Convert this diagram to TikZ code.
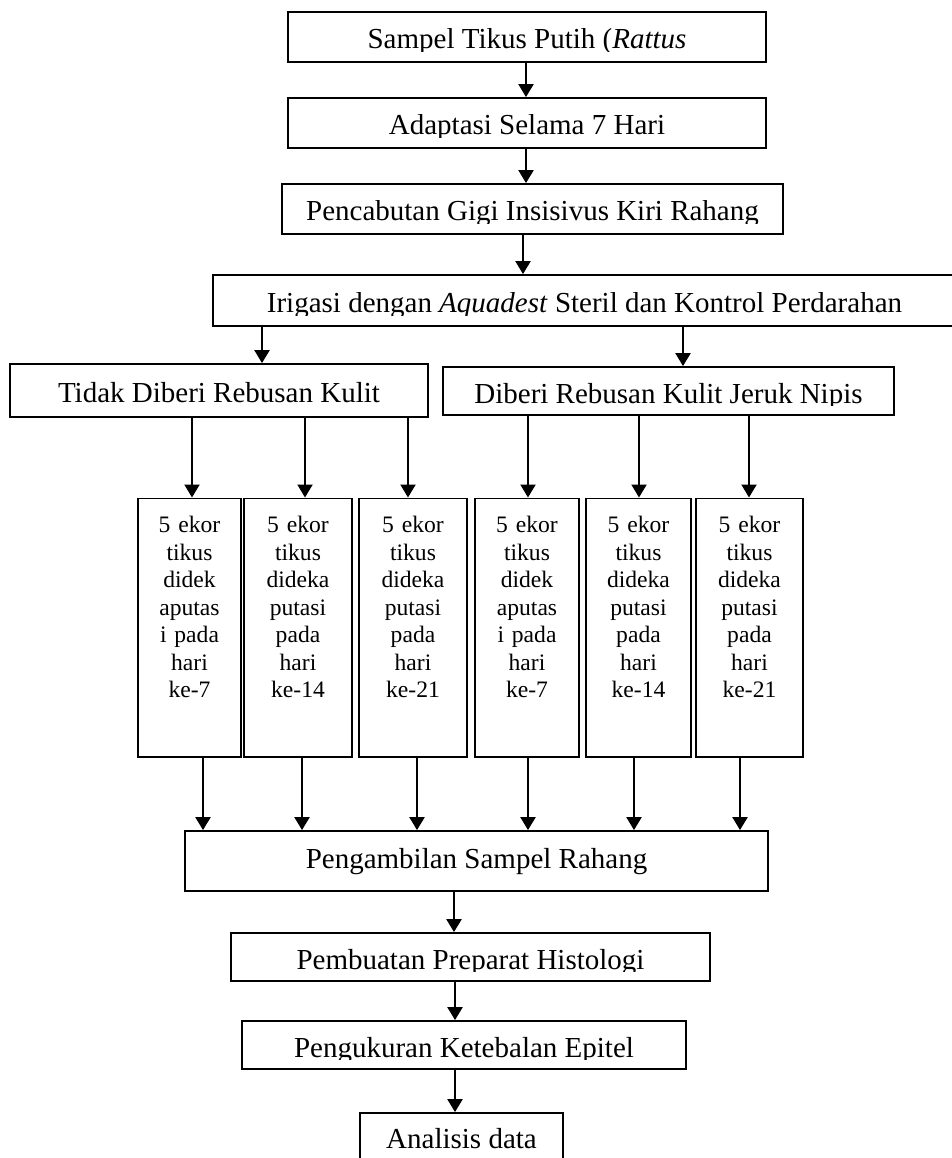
\documentclass[tikz,border=0pt]{standalone}
\usepackage{fontspec}
\setmainfont{Liberation Serif}
\usepackage{trimclip}
\usetikzlibrary{arrows.meta,calc,positioning}
% text box of the word processor cuts the descenders
\newcommand{\cuttext}[1]{\clipbox{0pt 7pt 0pt 0pt}{\raisebox{0pt}[\height][9.5pt]{#1}}}
\tikzset{
  flowbox/.style={draw, line width=1.8pt, inner sep=0pt, text height=25pt, text depth=1pt,
    font=\fontsize{29}{34}\selectfont},
  dayblock/.style={draw, line width=1.8pt, inner sep=0pt, anchor=north, text width=95pt,
    align=center, text height=34.5pt, text depth=224pt, font=\fontsize{23.6}{27.5}\selectfont},
  arr/.style={line width=2.2pt, -{Triangle[length=13pt,width=15pt]}}
}

\begin{document}
\begin{tikzpicture}[x=1pt,y=-1pt]
        \path[fill=white, use as bounding box] (0,0) rectangle (952,1158);
        % Main steps
        \node[flowbox, minimum width=478pt, minimum height=50pt] (s1) at (527,37) {\cuttext{Sampel Tikus Putih (\textit{Rattus}}};
        \node[flowbox, minimum width=478pt, minimum height=50pt] (s2) at (527,123) {\cuttext{Adaptasi Selama 7 Hari}};
        \node[flowbox, minimum width=501pt, minimum height=50pt] (s3) at (532.5,209) {\cuttext{Pencabutan Gigi Insisivus Kiri Rahang}};
        \node[flowbox, minimum width=743pt, minimum height=51pt] (s4) at (584.5,300.5) {\cuttext{Irigasi dengan \textit{Aquadest} Steril dan Kontrol Perdarahan}};
        % The two groups
        \node[flowbox, minimum width=418pt, minimum height=53pt] (s5) at (219,390.5) {Tidak Diberi Rebusan Kulit};
        \node[flowbox, minimum width=451pt, minimum height=48pt] (s6) at (668.5,391) {\cuttext{Diberi Rebusan Kulit Jeruk Nipis}};
        % Decapitation days
        \foreach \n/\x/\w/\t in {ta/189.5/103/{5 ekor\\tikus\\didek\\aputas\\i pada\\hari\\ke-7},
            tb/298/108/{5 ekor\\tikus\\dideka\\putasi\\pada\\hari\\ke-14},
            tc/413/108/{5 ekor\\tikus\\dideka\\putasi\\pada\\hari\\ke-21},
            td/527/104/{5 ekor\\tikus\\didek\\aputas\\i pada\\hari\\ke-7},
            te/638.5/105/{5 ekor\\tikus\\dideka\\putasi\\pada\\hari\\ke-14},
            tf/749.5/107/{5 ekor\\tikus\\dideka\\putasi\\pada\\hari\\ke-21}} {
            \node[dayblock, minimum width=\w pt] (\n) at (\x,497.5) {\t};
          }
        % Last steps
        \node[flowbox, minimum width=583pt, minimum height=60pt, text height=15.6pt] (s7) at (476.5,861) {Pengambilan Sampel Rahang};
        \node[flowbox, minimum width=479pt, minimum height=48pt] (s8) at (470.5,957) {\cuttext{Pembuatan Preparat Histologi}};
        \node[flowbox, minimum width=444pt, minimum height=48pt] (s9) at (464,1045) {\cuttext{Pengukuran Ketebalan Epitel}};
        \node[flowbox, minimum width=203pt, minimum height=70pt, text height=13pt, text depth=13pt] (s10) at (461.5,1148) {Analisis data};
        % Arrows
        \foreach \a/\b/\x in {s1/s2/526, s2/s3/526, s3/s4/523, s4/s5/262, s4/s6/683,
            s5/ta/192, s5/tb/305, s5/tc/408, s6/td/528, s6/te/639, s6/tf/749,
            ta/s7/203, tb/s7/302, tc/s7/417, td/s7/528, te/s7/634, tf/s7/740,
            s7/s8/454, s8/s9/455, s9/s10/455} {
            \draw[arr] (\a.south -| \x,0) -- (\b.north -| \x,0);
          }
      \end{tikzpicture}
\end{document}
